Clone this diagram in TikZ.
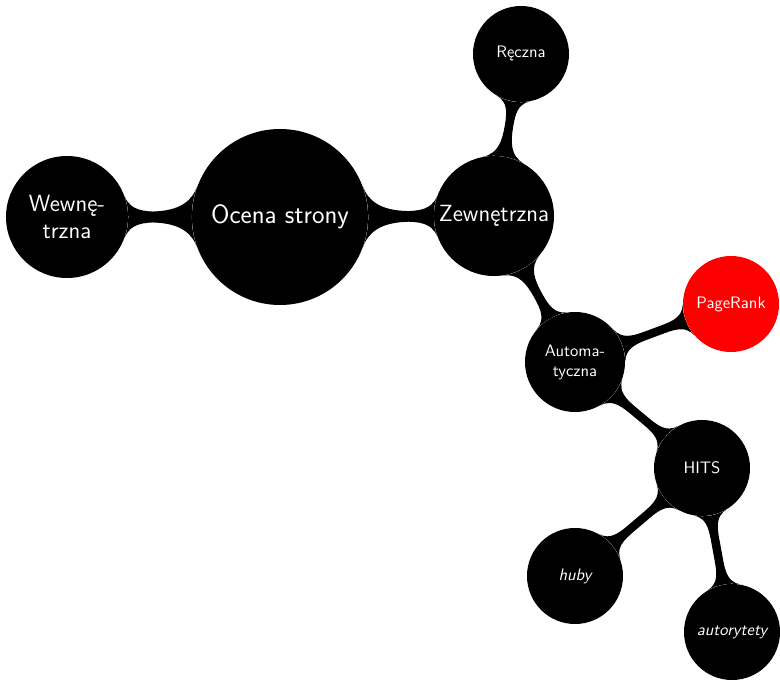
\documentclass[tikz,border=0pt]{standalone}
\usepackage{fontspec}
\usetikzlibrary{mindmap,backgrounds}
\begin{document}
\begin{tikzpicture}[x=0.65pt,y=-0.65pt,
  bubble/.style={circle, fill=black, text=white, align=center, inner sep=0pt},
  rootc/.style={bubble, minimum size=114.4pt, font=\sffamily\fontsize{17.28}{20}\selectfont},
  lvone/.style={bubble, minimum size=79.3pt, font=\sffamily\fontsize{15.2}{18}\selectfont},
  lvtwo/.style={bubble, minimum size=62.4pt, font=\sffamily\fontsize{10.8}{13}\selectfont},
  link/.style={circle connection bar switch color=from (black) to (black)}
]
\useasboundingbox (0,0) rectangle (780,680);

\node[rootc] (root) at (280,217) {Ocena strony};
\node[lvone] (wew) at (67,217) {Wewnę-\\trzna};
\node[lvone, minimum size=78pt] (zew) at (494,216) {Zewnętrzna};
\node[lvtwo] (rec) at (521,54) {Ręczna};
\node[lvtwo, minimum size=65pt] (aut) at (575,362) {Automa-\\tyczna};
\node[lvtwo, fill=red] (pr) at (731,304) {PageRank};
\node[lvtwo] (hits) at (702,468) {HITS};
\node[lvtwo] (hub) at (575,576) {\itshape huby};
\node[lvtwo] (ath) at (732,632) {\itshape autorytety};

% connection bars sit behind the concept circles
\begin{scope}[on background layer]
\path (root) to[link] (wew);
\path (root) to[link] (zew);
\path (zew) to[link] (rec);
\path (zew) to[link] (aut);
\path (aut) to[link] (pr);
\path (aut) to[link] (hits);
\path (hits) to[link] (hub);
\path (hits) to[link] (ath);
\end{scope}
\end{tikzpicture}
\end{document}
